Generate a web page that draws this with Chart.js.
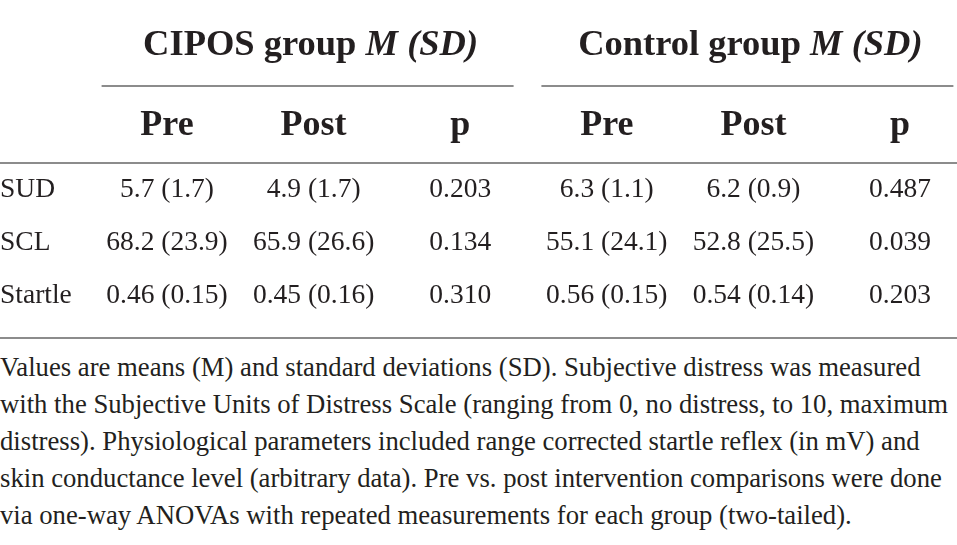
<!DOCTYPE html>
<html>
<head>
<meta charset="utf-8">
<script src="https://cdn.jsdelivr.net/npm/chart.js@4.4.0/dist/chart.umd.min.js"></script>
<style>
    html, body { margin: 0; padding: 0; background: #fff; }
    #wrap { position: relative; width: 957px; height: 545px; overflow: hidden; }
    #tableChart { position: absolute; left: 0; top: 0; }
    #note {
        position: absolute; left: 0; top: 349px; width: 957px;
        font-family: "Liberation Serif", "Times New Roman", serif; font-size: 26.7px; line-height: 37px;
        color: #231f20; white-space: nowrap;
    }
</style>
</head>
<body>
<div id="wrap">
    <canvas id="tableChart" width="957" height="340"></canvas>
    <div id="note">
        Values are means (M) and standard deviations (SD). Subjective distress was measured<br>
        with the Subjective Units of Distress Scale (ranging from 0, no distress, to 10, maximum<br>
        distress). Physiological parameters included range corrected startle reflex (in mV) and<br>
        skin conductance level (arbitrary data). Pre vs. post intervention comparisons were done<br>
        via one-way ANOVAs with repeated measurements for each group (two-tailed).
    </div>
</div>
<script>
const groups = ['CIPOS group', 'Control group'];
const measures = ['Pre', 'Post', 'p'];
const rows = ['SUD', 'SCL', 'Startle'];
const rowDecimals = [1, 1, 2];

const ciposPreM = [5.7, 68.2, 0.46];
const ciposPreSD = [1.7, 23.9, 0.15];
const ciposPostM = [4.9, 65.9, 0.45];
const ciposPostSD = [1.7, 26.6, 0.16];
const ciposP = [0.203, 0.134, 0.310];

const controlPreM = [6.3, 55.1, 0.56];
const controlPreSD = [1.1, 24.1, 0.15];
const controlPostM = [6.2, 52.8, 0.54];
const controlPostSD = [0.9, 25.5, 0.14];
const controlP = [0.487, 0.039, 0.203];

const textColor = '#231f20';
const ruleColor = '#8c8c8c';
const serif = '"Liberation Serif", "Times New Roman", serif';
const bodyFont = '27.5px ' + serif;
const headFont = 'bold 36.5px ' + serif;
const headItalic = 'italic bold 36.5px ' + serif;
const subFont = 'bold 36px ' + serif;

const colKeys = groups.flatMap(g => measures.map(m => g + ' ' + m));

function msd(m, sd, d) {
    return m.map((v, i) => `${v.toFixed(d[i])} (${sd[i].toFixed(d[i])})`);
}

const columns = [
    msd(ciposPreM, ciposPreSD, rowDecimals),
    msd(ciposPostM, ciposPostSD, rowDecimals),
    ciposP.map(v => v.toFixed(3)),
    msd(controlPreM, controlPreSD, rowDecimals),
    msd(controlPostM, controlPostSD, rowDecimals),
    controlP.map(v => v.toFixed(3))
];

const datasets = colKeys.map((key, c) => ({
    label: key,
    data: rows.map(r => ({ x: key, y: r })),
    cells: columns[c],
    pointRadius: 0,
    showLine: false
}));

const tablePlugin = {
    id: 'tableText',
    afterDatasetsDraw(chart) {
        const ctx = chart.ctx;
        const xs = chart.scales.x;
        const ys = chart.scales.y;
        const W = chart.width;
        ctx.save();

        // rules
        ctx.strokeStyle = ruleColor;
        ctx.lineWidth = 2;
        const hline = (x0, x1, y) => {
            ctx.beginPath(); ctx.moveTo(x0, y); ctx.lineTo(x1, y); ctx.stroke();
        };
        hline(0, W, 163);
        hline(0, W, 338);

        ctx.fillStyle = textColor;
        ctx.textBaseline = 'alphabetic';

        // group headers with underline
        groups.forEach((g, gi) => {
            const mid = xs.getPixelForValue(gi * 3 + 1);
            const cx = mid - 3;
            const a = g + ' ';
            const b = 'M (SD)';
            ctx.font = headFont;
            const wa = ctx.measureText(a).width;
            ctx.font = headItalic;
            const wb = ctx.measureText(b).width;
            const x0 = cx - (wa + wb) / 2;
            ctx.textAlign = 'left';
            ctx.font = headFont;
            ctx.fillText(a, x0, 55);
            ctx.font = headItalic;
            ctx.fillText(b, x0 + wa, 55);
            hline(Math.max(mid - 212, 0), Math.min(mid + 200, W), 86);
        });

        // sub headers
        ctx.font = subFont;
        ctx.textAlign = 'center';
        colKeys.forEach((k, c) => {
            ctx.fillText(measures[c % 3], xs.getPixelForValue(c), 135);
        });

        // row labels
        ctx.font = bodyFont;
        ctx.textAlign = 'left';
        rows.forEach((r, j) => ctx.fillText(r, 0, ys.getPixelForValue(j) + 9));

        // cells
        ctx.textAlign = 'center';
        chart.data.datasets.forEach((ds, di) => {
            chart.getDatasetMeta(di).data.forEach((pt, i) => {
                ctx.fillText(ds.cells[i], pt.x, pt.y + 9);
            });
        });
        ctx.restore();
    }
};

new Chart(document.getElementById('tableChart'), {
    type: 'scatter',
    data: { datasets },
    options: {
        responsive: false,
        animation: false,
        events: [],
        layout: { padding: { left: 167, right: 57, top: 188, bottom: 46 } },
        scales: {
            x: { type: 'category', labels: colKeys, offset: false, display: false },
            y: { type: 'category', labels: rows, offset: false, display: false }
        },
        plugins: { legend: { display: false }, tooltip: { enabled: false } }
    },
    plugins: [tablePlugin]
});
</script>
</body>
</html>
